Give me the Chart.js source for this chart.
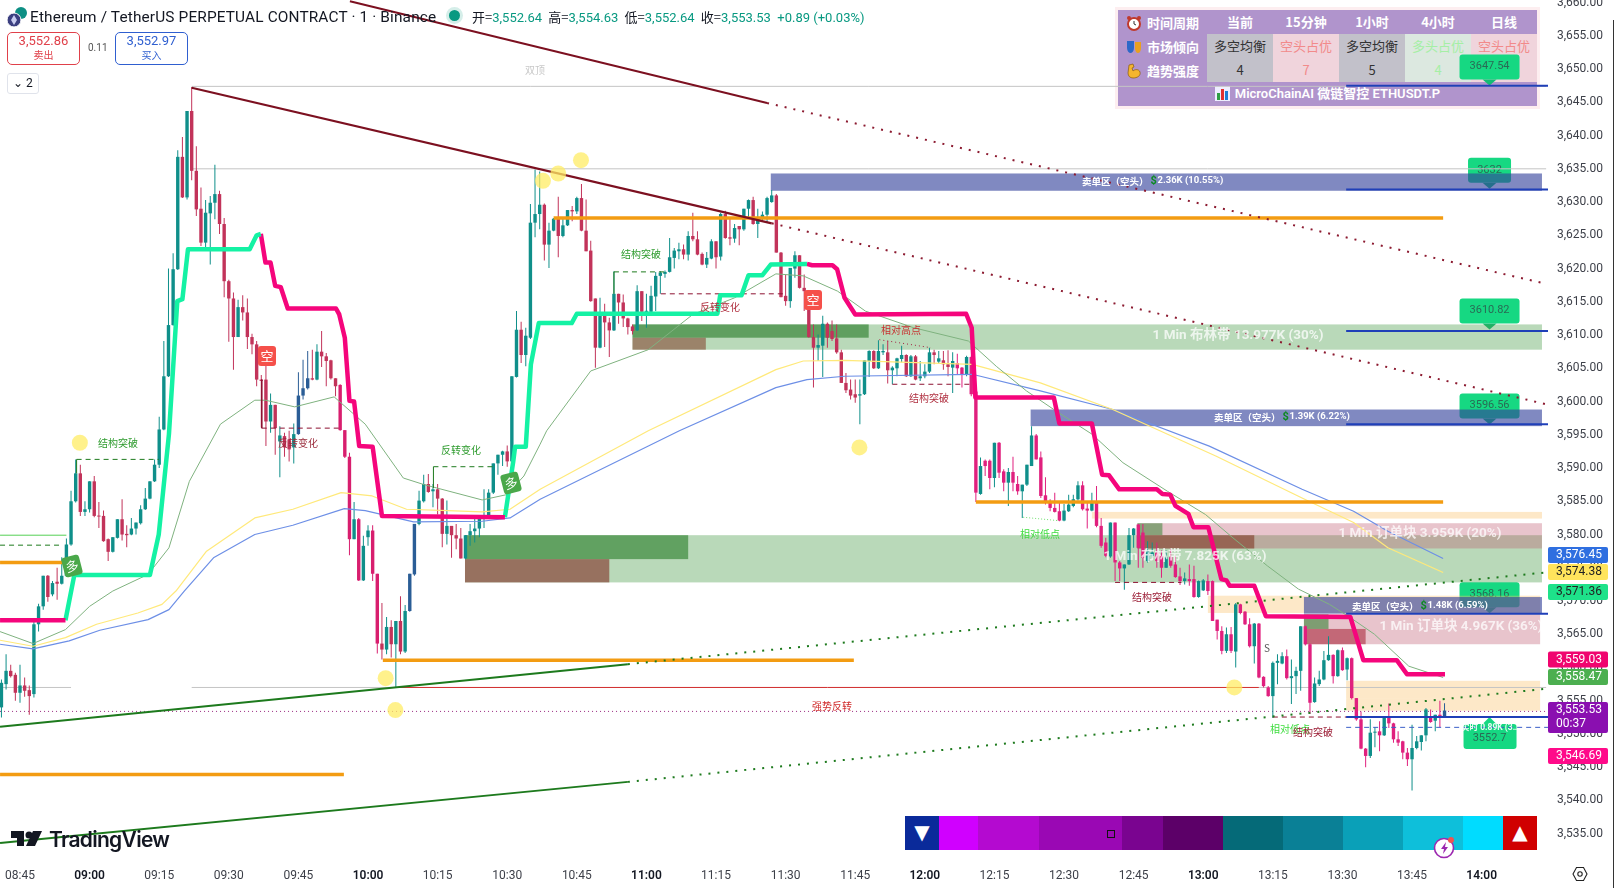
<!DOCTYPE html>
<html>
<head>
<meta charset="utf-8">
<title>ETHUSDT.P 1m</title>
<script src="https://cdn.jsdelivr.net/npm/chart.js@4/dist/chart.umd.js"></script>
<style>
  html, body { margin: 0; padding: 0; background: #fff; overflow: hidden; }
  body { width: 1614px; height: 888px; position: relative; font-family: Roboto, "Noto Sans CJK SC", sans-serif; color: #131722; }
  #wrap { position: absolute; left: 0; top: 0; width: 1614px; height: 888px; z-index: 1; }
  .top { position: absolute; z-index: 2; white-space: nowrap; }
  .cjk { font-family: "Noto Sans CJK SC", sans-serif; }
  .box { border: 1px solid; border-radius: 5px; width: 71px; height: 31px; text-align: center; font-size: 13px; line-height: 16px; background: #fff; }
  .box small { display: block; font-size: 10px; line-height: 12px; font-family: "Noto Sans CJK SC"; }
  #panel { position: absolute; z-index: 0; left: 1118px; top: 10px; width: 419px; height: 96px; background: #b094cc; box-shadow: 0 0 0 3px #fdeef0; }
  #panel table { border-collapse: collapse; table-layout: fixed; width: 419px; font-family: "Noto Sans CJK SC"; font-size: 13px; text-align: center; }
  #panel td { padding: 0; height: 24px; line-height: 24px; overflow: hidden; white-space: nowrap; }
  #panel th { padding: 0; height: 24px; font-weight: 600; color: #fff; text-align: left; }
  #panel th svg { vertical-align: -3px; margin: 0 5px 0 8px; }
  .head td { color: #fff; font-weight: 600; }
  #strip { position: absolute; z-index: 2; left: 905px; top: 816px; height: 34px; }
  #strip div { position: absolute; top: 0; height: 34px; color: #fff; text-align: center; line-height: 33px; font-size: 20px; font-family: "DejaVu Sans"; }
</style>
</head>
<body>
<div id="panel"></div>
<div id="wrap"><canvas id="priceChart"></canvas></div>

<!-- header -->
<svg class="top" style="left:6px;top:6px" width="22" height="22" viewBox="0 0 22 22">
  <circle cx="15" cy="7" r="6" fill="#0d8f84"/><circle cx="8" cy="14" r="7" fill="#3b3f80" stroke="#fff"/>
  <path d="M8 9l3 5-3 5-3-5z" fill="#c9cdf0"/>
</svg>
<div class="top" style="left:30px;top:7px;font-size:15.4px;line-height:20px;letter-spacing:.14px">Ethereum / TetherUS PERPETUAL CONTRACT · 1 · Binance</div>
<div class="top" style="left:449px;top:10px;width:11px;height:11px;border-radius:50%;background:#089981;box-shadow:0 0 0 3px #d5eee9"></div>
<div class="top" style="left:472px;top:8px;font-size:13px;line-height:17px;color:#089981">
  <span class="cjk" style="color:#131722">开=</span>3,552.64 <span class="cjk" style="color:#131722;margin-left:3px">高=</span>3,554.63 <span class="cjk" style="color:#131722;margin-left:3px">低=</span>3,552.64 <span class="cjk" style="color:#131722;margin-left:3px">收=</span>3,553.53 &nbsp;+0.89 (+0.03%)
</div>
<div class="top box" style="left:7px;top:32px;color:#e0404a;border-color:#e0404a">3,552.86<small>卖出</small></div>
<div class="top" style="left:88px;top:42px;font-size:10px;color:#555">0.11</div>
<div class="top box" style="left:115px;top:32px;color:#2f5fd0;border-color:#2f5fd0">3,552.97<small>买入</small></div>
<div class="top" style="left:7px;top:73px;width:30px;height:19px;border:1px solid #e0e3eb;border-radius:3px;background:#fff;font-size:12px;line-height:19px;text-align:center">⌄ 2</div>

<!-- tradingview mark -->
<svg class="top" style="left:11px;top:831px" width="32" height="18" viewBox="0 0 32 18">
  <path d="M0 0h13v15H6V7H0z" fill="#131722"/><circle cx="18" cy="4" r="3.5" fill="#131722"/><path d="M22 0h9l-7 15h-9z" fill="#131722"/>
</svg>
<div class="top" style="left:49px;top:826px;font-family:Inter;font-weight:600;font-size:21px;line-height:28px;letter-spacing:-.7px;color:#131722">TradingView</div>

<div id="strip"></div>
<svg class="top" style="left:1433px;top:835px" width="24" height="24" viewBox="0 0 24 24">
  <circle cx="11" cy="13" r="9.5" fill="#fff" stroke="#9c27b0" stroke-width="1.6"/><path d="M13 7l-5 7h3l-1 5 5-7h-3z" fill="#9c27b0"/><circle cx="18" cy="5" r="3" fill="#ef5350"/>
</svg>
<svg class="top" style="left:1572px;top:866px" width="16" height="16" viewBox="0 0 16 16">
  <path d="M4.5 1.5h7L15 8l-3.5 6.5h-7L1 8z" fill="none" stroke="#222" stroke-width="1.1"/><circle cx="8" cy="8" r="2.2" fill="none" stroke="#222" stroke-width="1.1"/>
</svg>
<div class="top" style="left:1613px;top:20px;width:1px;height:868px;background:#333"></div>

<script>
// first bar is 08:41, one bar per minute, x axis is minutes since midnight
const firstMinute = 521;

const opens = [
  3554,3557.5,3559.5,3558.9,3556.2,3557.3,3556.6,3556,3566.5,3569.2,
  3573.8,3571,3572.9,3572.6,3573.8,3578.5,3585,3589.2,3583.4,3583.8,
  3588,3582.8,3582.8,3579.3,3577.4,3579.5,3582.3,3580.1,3580,3580.9,
  3581.7,3583.8,3585.4,3588,3590.5,3595.8,3603.8,3611.5,3619.9,3636.8,
  3630.7,3643.7,3634.7,3629,3623.9,3628.3,3629.9,3631.2,3626.7,3618.1,
  3615.5,3609.7,3614.2,3613.4,3609.7,3608.6,3603.3,3603.3,3597,3599.5,
  3594,3594.8,3594.3,3593.1,3595.1,3600.9,3602,3603.5,3603.3,3607.5,
  3606.8,3606.2,3603.5,3602.5,3595.7,3591.7,3579.3,3582.3,3573.1,3579.6,
  3580.6,3574.1,3563.6,3562.7,3566.1,3563.5,3567,3562.4,3568.5,3574,
  3581.6,3585,3587.6,3586.5,3586.8,3585.4,3580.1,3581.3,3579.9,3579.4,
  3576.4,3579.9,3580.5,3580.9,3582.5,3582.9,3586.3,3590.7,3592,3592.5,
  3591,3603.7,3610.8,3607,3609.6,3626.9,3628.2,3629.6,3623.6,3625.7,
  3627.5,3624.9,3626.5,3628.8,3628.6,3630.6,3625.7,3622.7,3615.5,3608.1,
  3613.4,3611.9,3610.7,3616.2,3614.9,3612.5,3611.3,3610.7,3616.6,3613.5,
  3613.5,3615.8,3618.9,3619.2,3619.5,3621.6,3622.6,3622.9,3622.1,3624.9,
  3624.4,3622.2,3620.6,3621.5,3624.1,3621.8,3628.2,3624.7,3624.5,3626.4,
  3625.9,3629,3630.3,3626.7,3627.7,3628.1,3630,3631,3622.4,3615.9,
  3615.1,3620,3622,3617.1,3616.7,3609.7,3608.1,3608.4,3611.7,3610.6,
  3609.5,3607.4,3602.8,3601.8,3601.1,3600.9,3601.1,3606.1,3607.6,3605,
  3607.4,3607.4,3604.7,3605,3606.4,3607,3603.8,3606.8,3603.5,3603.8,
  3604.5,3607.4,3606,3606.2,3605.6,3605.1,3605.8,3605.1,3604.1,3606.7,
  3601.5,3586.1,3591.1,3591.1,3588.5,3593.8,3589.5,3587.8,3589.4,3587.6,
  3586.5,3587.5,3590.3,3594.9,3591.6,3585.9,3585,3584,3583.5,3582.1,
  3583.5,3584.3,3585.3,3587.4,3583.9,3583.6,3584.8,3581.3,3578.8,3576.7,
  3581.8,3575.8,3574.9,3575.5,3579.9,3581.5,3580.3,3576,3576.8,3577.3,
  3576.8,3575,3576.6,3575.5,3573.7,3573,3573.3,3573.3,3570.6,3571.6,
  3573,3573,3567.2,3565.5,3562.5,3565,3562.4,3569.5,3568.4,3566.5,
  3563.2,3566.6,3558.6,3557,3555.7,3560.7,3560.6,3561.7,3558.4,3558.7,
  3559.5,3566.2,3563.5,3554.8,3557.5,3558.2,3561.1,3561.9,3558.7,3562.6,
  3559.7,3561.4,3555.4,3552.2,3547.8,3546.7,3550.2,3550.4,3549.8,3552.7,
  3551.6,3549.2,3548.9,3547.2,3546.2,3547.9,3548.8,3549.8,3552.7,3552,3552.9,3552.64
];
const highs = [
  3558.2,3562,3560.4,3559.2,3560.4,3558.5,3557.3,3567,3569.6,3573.8,
  3573.9,3573,3575,3576.6,3579.4,3586.6,3591.3,3590.5,3585,3588,
  3588.8,3584.9,3583.6,3579.4,3579.6,3582.3,3585.3,3581.4,3582.5,3581.8,
  3584.4,3587,3588,3591.3,3597.7,3609.1,3620,3622.3,3637.8,3639.8,
  3643.7,3647.3,3638.4,3632.2,3630.3,3630.9,3635.6,3631.7,3627.6,3618.3,
  3616.4,3615.3,3616,3615.5,3610.2,3609.1,3604,3605.6,3601.2,3599.5,
  3596.3,3595.3,3595.6,3596.7,3604.4,3606.3,3607.6,3607.8,3608.6,3610.6,
  3607.3,3606.3,3603.5,3602.6,3595.7,3592.3,3584.9,3582.5,3579.8,3581.4,
  3581.4,3574.1,3569.7,3567.6,3567.1,3567,3570.7,3569.4,3574.1,3581.6,
  3586.6,3589,3589.1,3587.6,3587.6,3585.5,3585.1,3581.3,3581.6,3581,
  3579.9,3581.6,3582.5,3582.5,3586.8,3586.8,3590.7,3592,3592.6,3593.4,
  3603.8,3613.6,3612,3611.1,3629.7,3634.9,3634.6,3629.8,3626.9,3627.6,
  3630.8,3627.5,3628.8,3629.4,3630.8,3632.7,3630.4,3624.2,3615.5,3615.6,
  3614.7,3612.6,3619.6,3616.2,3616.1,3612.6,3611.6,3617.5,3616.6,3616.2,
  3617.4,3619.5,3619.6,3619.7,3624.6,3623.1,3623.9,3623.6,3625.6,3628.4,
  3625.6,3622.4,3622.5,3624.4,3624.1,3628.4,3628.7,3627.6,3626.7,3626.4,
  3629,3630.4,3630.8,3629,3628.6,3630.8,3631.8,3631.2,3622.5,3619.1,
  3620.1,3622.6,3622,3619.1,3616.7,3611.6,3610.1,3612.9,3611.9,3612.2,
  3611.6,3607.8,3604.3,3603.3,3603.3,3603.3,3606.2,3607.7,3607.7,3609.2,
  3608.6,3609.1,3605.3,3606.6,3608.4,3607.1,3607,3607,3606.1,3605.6,
  3608.1,3607.8,3607.6,3607.6,3607.7,3607.4,3607.2,3605.2,3606.9,3606.9,
  3601.6,3591.6,3591.3,3591.3,3593.8,3593.9,3589.8,3590,3591.7,3588.8,
  3587.5,3590.5,3596.3,3595.1,3592.5,3588.6,3585.3,3586.3,3584.8,3584.6,
  3586,3586,3588,3588,3585,3586.3,3587.3,3582.5,3579.5,3581.8,
  3581.8,3576,3575.5,3581,3581,3581.6,3581.6,3579,3578.8,3578.8,
  3577.6,3577.6,3577.8,3576.8,3575,3574.3,3575.5,3575.3,3573.1,3573.3,
  3574,3573.1,3567.2,3566.2,3566,3566.1,3569.7,3569.6,3568.5,3567.4,
  3566.7,3566.7,3558.7,3557.2,3560.9,3562,3562.3,3562.7,3561.2,3560.1,
  3566.2,3566.3,3563.6,3558.5,3559.5,3562.5,3564.7,3562,3562.7,3563,
  3561.5,3561.5,3555.4,3553.4,3547.9,3552.2,3551,3551.9,3552.7,3554.6,
  3551.7,3550.4,3549,3547.9,3551.4,3549.7,3549.8,3553.9,3553.7,3552.9,3555,3554.63
];
const lows = [
  3552.5,3556.7,3558.5,3555,3554.7,3555.6,3552.9,3555.5,3565.4,3568.7,
  3569.9,3570.7,3570.2,3572.5,3573.6,3578.3,3584.8,3582.8,3582.8,3583.3,
  3582.6,3581,3578.9,3576,3577.3,3579.4,3579.1,3578.1,3579.9,3580,
  3581.5,3583.7,3585.3,3587.9,3590,3595.7,3603.7,3611.4,3619.8,3630.6,
  3630.4,3633.3,3627.9,3623.4,3622.9,3620.6,3627.4,3625.2,3615.7,3609,
  3604.8,3609.7,3612.2,3607.9,3607.1,3602.3,3596.1,3593.3,3595.3,3592,
  3588.6,3591.7,3591,3590.7,3595,3600.3,3601.8,3603.2,3603.2,3605.2,
  3602.3,3603.3,3600.8,3595.6,3591.5,3576.9,3579.3,3573,3573,3578.3,
  3573,3562.1,3561.2,3562,3561.5,3557,3562,3562.2,3568.4,3573.8,
  3581.4,3584.8,3586.3,3584.1,3583,3578.1,3578.5,3576.5,3577.8,3576.4,
  3576.3,3578.3,3578.8,3579.6,3581,3582.8,3586.1,3589,3590.3,3590.2,
  3590.9,3603.6,3605.8,3605.3,3609.4,3624.7,3625.9,3621.2,3620.1,3625.6,
  3621.7,3624.7,3626.4,3627.1,3628.2,3625.6,3622.6,3615,3605.1,3608,
  3608.2,3606.7,3610.6,3611.7,3611.2,3610.1,3610.1,3610.6,3612.1,3611.1,
  3613.4,3613.6,3616.2,3618.6,3619.4,3620,3621.4,3621.4,3621.2,3624.1,
  3622,3620.5,3620.1,3621.4,3620,3621.2,3624.5,3623.5,3623.9,3623.5,
  3625.7,3627.6,3626.6,3624.6,3627.2,3626.9,3629.9,3622.4,3615.7,3614.4,
  3614.1,3618.6,3617,3613.6,3609.6,3602.1,3606.1,3603.7,3608.1,3609.1,
  3607.2,3602.8,3601.3,3600.3,3599.8,3596.6,3601,3603.7,3604.9,3604.9,
  3607,3602.7,3602.6,3603.8,3605.9,3603.7,3603.7,3603.2,3603.1,3603.5,
  3604.3,3605.6,3605.7,3604.8,3603.8,3601.3,3604.1,3602.1,3603.8,3600.8,
  3584.9,3586,3588.8,3586.8,3587.1,3588.5,3586.5,3584.3,3586.5,3586,
  3582.5,3587.3,3590.3,3591.3,3585.5,3584.5,3583.5,3583.3,3582,3582,
  3583.4,3584.1,3585.1,3583.6,3580.9,3583.5,3581.1,3578,3576.6,3576.5,
  3573,3573,3571.7,3575.4,3578,3575,3575,3575.8,3576.5,3575,
  3573.5,3575,3575,3573.5,3572.4,3572.5,3572.3,3570.5,3570.5,3571.5,
  3570.9,3567,3564.2,3562,3562.2,3562.2,3560,3568,3566.4,3563,
  3560.6,3558.4,3557,3555.6,3552.4,3557.5,3560.5,3558.2,3554.5,3556,
  3556.5,3563.3,3553,3554.7,3557.2,3558.1,3561,3557.6,3558.6,3559.5,
  3558.1,3555.2,3552,3547.7,3545,3546.4,3548,3547.4,3549.7,3550.9,
  3548.7,3548.2,3546.2,3545.2,3541.5,3547.7,3547.5,3548.9,3551.7,3550.4,3551,3552.64
];
const closes = [
  3557.7,3559.5,3558.7,3556.2,3557.3,3556.5,3555.7,3566.5,3569.2,3573.8,
  3570.6,3572.7,3572.6,3573.8,3578.5,3585,3589.2,3583.4,3583.8,3588,
  3582.8,3582.7,3579,3577.4,3579.6,3582.3,3580,3579.9,3580.9,3581.8,
  3583.8,3585.4,3588,3590.5,3595.8,3603.8,3611.5,3619.9,3636.8,3630.7,
  3643.7,3634.7,3628.9,3623.9,3628.4,3629.9,3631.2,3626.7,3618.1,3615.5,
  3609.7,3614.2,3613.4,3609.7,3608.6,3603.3,3603.1,3597,3599.5,3596,
  3594.9,3593.1,3592.8,3595.1,3600.9,3602,3603.5,3603.3,3607.5,3606.8,
  3606.1,3603.5,3602.3,3595.7,3591.7,3579.3,3582.3,3573.1,3578.3,3580.6,
  3574.1,3563.6,3562.7,3566.1,3563.5,3567,3562.4,3568.5,3574.1,3581.6,
  3585.1,3587.6,3586.4,3586.8,3585.4,3580.1,3581.3,3579.9,3579.4,3576.4,
  3579.9,3580.5,3580.9,3582.5,3582.9,3586.3,3590.7,3592,3592.5,3591,
  3603.8,3610.8,3607,3609.9,3626.9,3628.2,3629.6,3623.6,3625.7,3627.5,
  3624.9,3626.5,3628.8,3628.6,3630.6,3625.7,3622.6,3615.1,3608.1,3613.4,
  3611.9,3610.7,3616.2,3614.9,3612.5,3611.2,3610.6,3616.6,3613.5,3613.6,
  3615.9,3618.9,3619.4,3619.5,3621.7,3622.7,3622.9,3622.1,3624.9,3624.4,
  3622.1,3620.6,3621.6,3624.1,3621.7,3628.2,3624.6,3624.5,3626.1,3625.9,
  3629,3630.3,3626.7,3627.7,3628.1,3630.6,3631,3622.4,3615.7,3615.1,
  3620.1,3622,3617.1,3616.6,3609.7,3608.1,3608.5,3611.7,3609.6,3609.4,
  3607.4,3602.8,3601.7,3600.9,3600.6,3601.1,3606.2,3607.6,3605,3607.6,
  3607.6,3604.7,3605.1,3606.5,3607,3603.8,3606.8,3603.3,3603.8,3604.5,
  3607.4,3607,3606.5,3605.6,3605.2,3606.1,3605,3604.1,3606.7,3601.1,
  3586.3,3590.3,3590.3,3588.5,3593.8,3589.3,3587.8,3589.4,3587.8,3586.5,
  3587.5,3590.5,3594.9,3591.3,3585.8,3584.8,3584,3583.4,3582.1,3583.6,
  3584.5,3585.3,3587.4,3583.8,3583.6,3584.8,3581.3,3578.3,3576.8,3581.8,
  3575.8,3574.9,3575.5,3579.9,3580.9,3578,3576.5,3577.5,3577.3,3576,
  3575,3576.6,3575.3,3573.6,3573,3573.4,3573,3570.6,3573,3573.1,
  3571.5,3567,3565.5,3562.5,3565,3562.5,3569.5,3568.2,3566.5,3563.2,
  3566.6,3558.5,3557.2,3555.7,3560.7,3561,3561.7,3558.4,3558.7,3559.5,
  3566.2,3563.5,3554.7,3557.6,3558.2,3561.1,3561.9,3558.7,3562.6,3559.6,
  3561.4,3555.4,3552.2,3547.8,3546.7,3550.2,3550.3,3549.8,3552.7,3551.6,
  3549.2,3548.7,3547.2,3546.2,3547.9,3548.9,3549.8,3553.7,3551.8,3552.9,3552.5,3553.53
];

// thick trend line, [minute, price]
const pinkLeft = [[520.7,3567.1],[534.8,3567.1]];
const greenA = [[534.8,3567.1],[536.7,3573.9],[553,3573.9],[554.9,3580],[557.1,3595.1],[558.9,3615.1],[560,3615.4],[561.2,3622.9],[574.5,3622.9],[576,3625],[576.9,3625.2]];
const pinkA = [[576.9,3625.2],[577.9,3620.9],[579,3620.9],[580,3617.4],[581.2,3617.2],[582.7,3614],[593.1,3614],[593.8,3613.1],[595,3609.6],[596,3600.1],[597,3600],[598.1,3593.3],[601,3593.2],[603,3582.8],[629.5,3582.6]];
const greenB = [[629.5,3582.6],[631.3,3591],[631.7,3593.2],[634,3593.2],[635.1,3605.6],[636.8,3611.8],[643.9,3611.8],[645,3613.2],[675.3,3613.2],[675.9,3616],[680.5,3616],[682,3619],[685,3619],[686.8,3620.6],[694.6,3620.7]];
const pinkB = [[694.6,3620.7],[695.7,3620.5],[700.1,3620.5],[701.1,3619.9],[702.7,3615.6],[705,3613.1],[728.9,3613.2],[730.1,3611.1],[730.9,3600.6],[747.8,3600.6],[749,3596.7],[756,3596.7],[758.2,3589],[759.7,3588.9],[761.9,3586.8],[770,3586.8],[771.2,3586.1],[772.9,3586],[774,3584.3],[776.8,3583.1],[777.9,3581.1],[781.1,3581.1],[783.9,3573.3],[785,3573.1],[785.7,3572.3],[791,3572.3],[793.5,3567.7],[811.7,3567.6],[814.5,3561.1],[821.7,3561.1],[823.9,3559],[832.1,3559]];

// moving averages, [minute, price]
const maGreen = [[520.7,3565.4],[527.8,3563.6],[534.8,3565.7],[540,3569.2],[545,3571.5],[552.6,3574],[557.1,3578],[561.5,3588],[568.2,3596.6],[575.6,3600.2],[577.9,3600.2],[584.2,3599.2],[592.7,3600.7],[599.4,3596.6],[607.6,3588.5],[612.1,3587.5],[624.6,3585.2],[629.9,3586],[633.6,3588.8],[637.1,3593.6],[638.5,3595.6],[648,3604.6],[660.4,3607.8],[670,3613.1],[679,3615.6],[687.9,3619.2],[693.8,3618.9],[701.2,3616.6],[707.2,3613.6],[717.6,3611.1],[729.4,3609.1],[735.4,3605.3],[741.9,3601.6],[747.8,3598.8],[756,3595.1],[762.7,3590.8],[772.3,3586.5],[780.5,3583],[786.4,3579.5],[793.8,3575.3],[800.5,3571.8],[807.2,3569.5],[811.7,3567.5],[816.9,3565],[824.3,3560.2],[831.7,3558.5]];
const maYellow = [[520.7,3564.1],[527.8,3563.2],[534.8,3564.5],[541.5,3566.5],[550.4,3568.2],[555.6,3569.5],[558.6,3571.5],[565.2,3577.5],[575.6,3582.5],[583.8,3583.8],[594.2,3586.3],[600.9,3585.8],[608.3,3583.8],[617.2,3583.6],[624.6,3583.4],[630.6,3583.8],[637.1,3586.8],[660.4,3595.6],[687.9,3604.8],[693.8,3606.1],[702.7,3606.2],[730.2,3605.6],[744.9,3602.8],[760.5,3598.8],[782.7,3591.8],[801.3,3585.5],[812.4,3581.8],[819.8,3578],[831.7,3574.3]];
const maBlue = [[520.7,3563.5],[527.8,3562.8],[535.6,3564],[542.2,3565.6],[552.6,3567.2],[557.1,3568.7],[560.4,3571.5],[566.7,3576.5],[575.6,3580],[583.8,3581.4],[594.9,3583.9],[599.4,3583.6],[609.8,3581.9],[624.6,3582],[630.6,3582.5],[637.1,3585.3],[667.1,3595.6],[687.9,3602.1],[694.6,3603.3],[702.7,3603.8],[730.2,3604.1],[744.9,3601.6],[760.5,3598.8],[781.3,3593.3],[801.3,3586.8],[812.4,3583.5],[819.8,3580.5],[831.7,3576.4]];

// drawn trend channels: solid part then dotted projection
const channelTopA = [[596.1,3660.2],[686,3644.9]];
const channelTopB = [[686,3644.9],[853.9,3617.7]];
const channelMidA = [[562,3647.2],[687,3626.8]];
const channelMidB = [[687,3626.8],[853.9,3599.6]];
const supportA = [[520.7,3551.1],[656,3560.5]];
const supportB = [[656,3560.5],[853.9,3574.3]];
const supportLowA = [[520.7,3533.6],[656,3542.8]];
const supportLowB = [[656,3542.8],[853.9,3556.8]];

// flat levels: from, to, price
const orangeLevels = [[520.7,535,3575.8],[520.7,594.8,3543.9],[603.2,704.7,3561.1],[640,831.7,3627.6],[731,831.7,3584.9]];
const grayLevels = [[562,853.9,3647.4],[562,853.9,3635],[520.7,536,3557],[562,606,3557],[792,853.9,3557]];
const redLevels = [[606,792,3557]];
const blueLevels = [[810.8,854.3,3647.5],[810.8,854.3,3631.9],[810.8,854.3,3610.6],[810.8,854.3,3596.6],[810.8,854.3,3568.1],[810.8,854.3,3552.55]];
const purpleDotted = [[520.7,853.9,3553.4]];
const blueDashed = [[810.8,854.3,3551]];
const greenDashed = [[537.2,554.9,3591.3],[614.1,626.9,3590.2],[653,664.4,3619.5],[520.7,534,3578.4]];
const redDashed = [[577.1,594,3596],[663.1,689.6,3616.2],[713,730,3602.6],[761,775.3,3572.8],[795,813,3552.55]];
const lightGreenLevels = [[520.7,535,3579.9]];

const structureRed = [[710.2,3609.3],[721.3,3608.1]];
const structureGreen = [[741.2,3582.6],[748.6,3582.1]];
const markerMinutes = [537.9,603.8,605.9,645.9,641,637.7,705.9,786.7];
const markerPrices = [3593.8,3558.4,3553.6,3636.3,3634.3,3633.2,3593.1,3557];

// zones: from, to, low, high, colour
const zones = [
  [686.8,853,3631.7,3634.3,"rgba(50,65,155,.62)"],
  [657,853,3607.8,3611.6,"rgba(70,155,70,.38)"],
  [657,707.9,3609.6,3611.6,"rgba(40,125,40,.62)"],
  [657,672.8,3607.8,3609.6,"rgba(130,60,40,.55)"],
  [742.8,853,3596.3,3598.8,"rgba(50,65,155,.62)"],
  [756,853,3582.4,3583.4,"rgba(250,195,110,.38)"],
  [620.9,853,3572.8,3579.9,"rgba(70,155,70,.38)"],
  [620.9,669,3576.3,3579.9,"rgba(40,125,40,.6)"],
  [620.9,652,3572.8,3576.3,"rgba(130,50,40,.62)"],
  [765.8,853,3577.9,3581.7,"rgba(190,85,110,.35)"],
  [765.8,771.2,3579.9,3581.7,"rgba(40,125,40,.5)"],
  [765.8,791,3577.9,3579.9,"rgba(130,60,40,.62)"],
  [781,852.6,3568.2,3570.8,"rgba(250,195,110,.38)"],
  [801.7,853,3568.1,3570.6,"rgba(50,65,155,.62)"],
  [801.7,852.6,3563.5,3568,"rgba(190,85,110,.35)"],
  [801.7,807,3565.8,3568,"rgba(40,125,40,.55)"],
  [801.7,815,3563.5,3565.8,"rgba(165,30,50,.55)"],
  [810.8,852.6,3555.4,3558,"rgba(250,195,110,.38)"],
  [810.8,852.6,3553.5,3555.4,"rgba(250,195,110,.38)"]
];

// green price tags above a level, and the one under the last price
const tagPrices = [3647.54,3632,3610.82,3596.56,3568.16];
const tagLabels = ["3647.54","3632","3610.82","3596.56","3568.16"];

const stripColors = ["#0a2a9a","#d000ff","#b40ad0","#9a08b4","#7a0490","#5c0068","#056a78","#0a8096","#0aa0b8","#0ebfda","#00dcff","#d00000"];
const stripEdges = [905,939,978,1039,1122,1163,1223,1283,1343,1403,1463,1503,1537];

const panelHead = ["当前","15分钟","1小时","4小时","日线"];
const panelBias = ["多空均衡","空头占优","多空均衡","多头占优","空头占优"];
const panelStrength = [4,7,5,4,4];
const panelCellBg = ["#c2c1ca","#f0d4dc","#c2c1ca","#dce8e0","#f0d4dc"];
const panelCellFg = ["#333","#f28a8a","#333","#a5efa5","#f28a8a"];

// build the small table behind the chart
const clockIcon = '<svg width="16" height="16" viewBox="0 0 16 16"><circle cx="8" cy="9" r="6" fill="#fff" stroke="#c0392b" stroke-width="2"/><circle cx="3" cy="3" r="2" fill="#c0392b"/><circle cx="13" cy="3" r="2" fill="#c0392b"/><path d="M8 6v3l2 1" stroke="#333" fill="none"/></svg>';
const maskIcon = '<svg width="16" height="16" viewBox="0 0 16 16"><path d="M1 2h7v7c0 3-2 5-3.5 5S1 12 1 9z" fill="#2c68c8"/><path d="M9 3h6v6c0 3-1.500 5-3 5s-3-2-3-5z" fill="#e8a020"/></svg>';
const armIcon = '<svg width="16" height="16" viewBox="0 0 16 16"><path d="M3 2l4-1 1 3-2 1 1 3c2-2 6-2 7 1 1 4-3 6-7 6-3 0-5-2-5-5z" fill="#f5b52e" stroke="#8a5a10" stroke-width=".7"/></svg>';
const chartIcon = '<svg width="15" height="15" viewBox="0 0 15 15" style="vertical-align:-3px;margin-right:5px"><rect width="15" height="15" fill="#eef"/><rect x="2" y="7" width="3" height="7" fill="#2f9e44"/><rect x="6" y="3" width="3" height="11" fill="#e03131"/><rect x="10" y="5" width="3" height="9" fill="#1c7ed6"/></svg>';
let rows = '<colgroup><col style="width:89px"><col span="5" style="width:66px"></colgroup>';
rows += '<tr class="head"><th>' + clockIcon + '时间周期</th>' + panelHead.map(function (h) { return "<td>" + h + "</td>"; }).join("") + "</tr>";
rows += '<tr><th>' + maskIcon + '市场倾向</th>' + panelBias.map(function (b, i) { return '<td style="background:' + panelCellBg[i] + ";color:" + panelCellFg[i] + '">' + b + "</td>"; }).join("") + "</tr>";
rows += '<tr><th>' + armIcon + '趋势强度</th>' + panelStrength.map(function (s, i) { return '<td style="background:' + panelCellBg[i] + ";color:" + panelCellFg[i] + '">' + s + "</td>"; }).join("") + "</tr>";
rows += '<tr><td colspan="6" style="color:#fff;font-weight:600;font-family:Roboto,\'Noto Sans CJK SC\'">' + chartIcon + "MicroChainAI 微链智控 ETHUSDT.P</td></tr>";
document.getElementById("panel").innerHTML = "<table>" + rows + "</table>";

// bottom colour strip
const strip = document.getElementById("strip");
stripColors.forEach(function (c, i) {
  const d = document.createElement("div");
  d.style.left = stripEdges[i] - stripEdges[0] + "px";
  d.style.width = stripEdges[i + 1] - stripEdges[i] + "px";
  d.style.background = c;
  if (i === 0) d.textContent = "▼";
  if (i === stripColors.length - 1) d.textContent = "▲";
  strip.appendChild(d);
});
const dot = document.createElement("div");
dot.style.cssText = "left:202px;top:14px;width:6px;height:6px;border:1px solid #111;";
strip.appendChild(dot);

const minutesOf = function (i) { return firstMinute + i; };
const candleColor = function (i) {
  if (closes[i] >= opens[i]) {
    if ((i >= 64 && i <= 66) || (i >= 88 && i <= 89) || i === 311) return "#2a5d96";
    return "#0f8f8a";
  }
  if (i >= 205 && i <= 310) return "#e0207e";
  if (i >= 73 && i <= 81) return "#d81e6e";
  return "#c2335a";
};

const bodyData = opens.map(function (o, i) { return { x: minutesOf(i), y: [o, closes[i]] }; });
const wickData = highs.map(function (h, i) { return { x: minutesOf(i), y: [lows[i], h] }; });
const barColors = opens.map(function (o, i) { return candleColor(i); });

function pathSet(points, color, width, dash, order) {
  return {
    type: "line",
    data: points.map(function (p) { return { x: p[0], y: p[1] }; }),
    borderColor: color,
    borderWidth: width,
    borderDash: dash || [],
    pointRadius: 0,
    order: order,
    tension: 0,
    borderJoinStyle: "round"
  };
}
function levelSets(levels, color, width, dash, order) {
  return levels.map(function (l) { return pathSet([[l[0], l[2]], [l[1], l[2]]], color, width, dash, order); });
}

const datasets = [
  { type: "bar", data: wickData, backgroundColor: barColors, barThickness: 1, grouped: false, order: 20, inflateAmount: 0 },
  { type: "bar", data: bodyData, backgroundColor: barColors, barThickness: 3.4, grouped: false, order: 19, minBarLength: 1, inflateAmount: 0 },
  pathSet(maGreen, "#7fb27f", 1, null, 10),
  pathSet(maYellow, "#ffe97a", 1.2, null, 10),
  pathSet(maBlue, "#6d8fe6", 1.2, null, 10),
  pathSet(pinkLeft, "#f5057c", 4.5, null, 5),
  pathSet(greenA, "#14f2a4", 4.5, null, 5),
  pathSet(pinkA, "#f5057c", 4.5, null, 5),
  pathSet(greenB, "#14f2a4", 4.5, null, 5),
  pathSet(pinkB, "#f5057c", 4.5, null, 5),
  pathSet(channelTopA, "#7c1020", 2, null, 6),
  pathSet(channelTopB, "#8c1a30", 2, [2, 7], 6),
  pathSet(channelMidA, "#7c1020", 2.2, null, 6),
  pathSet(channelMidB, "#8c1a30", 2, [2, 7], 6),
  pathSet(supportA, "#1d7a1d", 2, null, 6),
  pathSet(supportB, "#1d7a1d", 2, [2, 7], 6),
  pathSet(supportLowA, "#1d7a1d", 2, null, 6),
  pathSet(supportLowB, "#1d7a1d", 2, [2, 7], 6),
  pathSet(structureRed, "#a02040", 1, [1, 3], 8),
  pathSet(structureGreen, "#6ee06e", 1, [1, 2], 8)
].concat(
  levelSets(orangeLevels, "#f39c12", 3.6, null, 7),
  levelSets(grayLevels, "#c4c4c4", 1, null, 25),
  levelSets(redLevels, "#d02a2a", 1, null, 25),
  levelSets(blueLevels, "#1f3fb8", 2, null, 6),
  levelSets(purpleDotted, "#9a2a80", 1, [1, 3], 25),
  levelSets(blueDashed, "#3a5fc8", 1, [5, 4], 6),
  levelSets(greenDashed, "#1d7a1d", 1, [5, 4], 8),
  levelSets(redDashed, "#8c1030", 1, [5, 4], 8),
  levelSets(lightGreenLevels, "#55d055", 1, null, 8)
);
// the little vertical legs of the structure breaks
[[537.2, 3589.2, 3591.3], [614.1, 3587, 3590.2], [653, 3616.2, 3619.5]].forEach(function (v) {
  datasets.push(pathSet([[v[0], v[1]], [v[0], v[2]]], "#1d7a1d", 1, null, 8));
});
datasets.push(pathSet([[577.1, 3603.3], [577.1, 3596]], "#8c1030", 1, null, 8));
datasets.push({
  type: "line",
  showLine: false,
  data: markerMinutes.map(function (m, i) { return { x: m, y: markerPrices[i] }; }),
  pointRadius: 8,
  pointHoverRadius: 8,
  pointBackgroundColor: "rgba(255,236,100,.75)",
  pointBorderWidth: 0,
  order: 4
});

// text notes on the chart
const notes = [
  ["结构突破", 118, 443, "#2e9b2e"], ["反转变化", 298, 443, "#9b2c3c"], ["反转变化", 461, 450, "#2e9b2e"],
  ["结构突破", 641, 254, "#2e9b2e"], ["反转变化", 720, 307, "#b03040"], ["相对高点", 901, 330, "#c83030"],
  ["结构突破", 929, 398, "#b03040"], ["相对低点", 1040, 534, "#3fdc3f"], ["结构突破", 1152, 597, "#9b1c34"],
  ["相对低点", 1290, 729, "#3fdc3f"], ["结构突破", 1313, 732, "#9b1c34"], ["强势反转", 832, 706, "#d02a2a"],
  ["双顶", 535, 70, "#c8c8c8"], ["S", 1267, 648, "#555"]
];
const badges = [["空", 267, 356, "#f5504a", 0], ["空", 813, 300, "#f5504a", 0], ["多", 72, 566, "#4aa84a", -0.25], ["多", 511, 483, "#4aa84a", -0.25]];
const sellNotes = [["2.36K (10.55%)", 1082, 181], ["1.39K (6.22%)", 1214, 417], ["1.48K (6.59%)", 1352, 606]];
const bookNotes = [
  ["1 Min 布林带 13.977K (30%)", 1238, 336], ["1 Min 订单块 3.959K (20%)", 1420, 534],
  ["1 Min 布林带 7.825K (63%)", 1185, 557], ["1 Min 订单块 4.967K (36%)", 1461, 627]
];
const axisLabels = [
  ["3,576.45", 555, 16, "#2f6fe0", "#fff"], ["3,574.38", 572, 16, "#ffe45c", "#222"], ["3,571.36", 592, 16, "#1ee28a", "#222"],
  ["3,559.03", 659.500, 16, "#f0056f", "#fff"], ["3,558.47", 677, 16, "#4caf50", "#fff"], ["3,546.69", 756, 16, "#ff0a8a", "#fff"]
];

function roundBox(ctx, x, y, w, h, r, color) {
  ctx.fillStyle = color;
  ctx.beginPath();
  ctx.roundRect(x, y, w, h, r);
  ctx.fill();
}

const overlayPlugin = {
  id: "overlay",
  beforeDatasetsDraw(chart) {
    const ctx = chart.ctx, xs = chart.scales.x, ys = chart.scales.y;
    ctx.save();
    // tags go under the zones so the zone tints them, like the reference
    const cx = xs.getPixelForValue(841.7);
    tagPrices.forEach(function (p, i) {
      const y = ys.getPixelForValue(p);
      const w = tagLabels[i].length < 5 ? 43 : 60;
      roundBox(ctx, cx - w / 2, y - 31, w, 25, 3, "#16d882");
      ctx.beginPath();
      ctx.moveTo(cx - 7, y - 6);
      ctx.lineTo(cx + 7, y - 6);
      ctx.lineTo(cx, y);
      ctx.fillStyle = "#12bc74";
      ctx.fill();
      ctx.fillStyle = "#2a6a55";
      ctx.font = '11px Roboto';
      ctx.textAlign = "center";
      ctx.textBaseline = "middle";
      ctx.fillText(tagLabels[i], cx, y - 19);
    });
    const below = ys.getPixelForValue(3552.55);
    ctx.beginPath();
    ctx.moveTo(cx - 7, below + 7);
    ctx.lineTo(cx + 7, below + 7);
    ctx.lineTo(cx, below);
    ctx.fillStyle = "#16d882";
    ctx.fill();
    roundBox(ctx, cx - 26, below + 7, 53, 25, 3, "#16d882");
    ctx.fillStyle = "#2a6a55";
    ctx.fillText("3552.7", cx, below + 21);
    // zones
    zones.forEach(function (z) {
      const x0 = xs.getPixelForValue(z[0]), x1 = xs.getPixelForValue(z[1]);
      const y0 = ys.getPixelForValue(z[3]), y1 = ys.getPixelForValue(z[2]);
      ctx.fillStyle = z[4];
      ctx.fillRect(x0, y0, x1 - x0, y1 - y0);
    });
    ctx.restore();
  },
  afterDatasetsDraw(chart) {
    const ctx = chart.ctx;
    ctx.save();
    ctx.textBaseline = "middle";
    ctx.textAlign = "center";
    ctx.font = '10px "Noto Sans CJK SC"';
    notes.forEach(function (n) {
      ctx.fillStyle = n[3];
      ctx.fillText(n[0], n[1], n[2]);
    });
    badges.forEach(function (b) {
      ctx.save();
      ctx.translate(b[1], b[2]);
      ctx.rotate(b[4]);
      roundBox(ctx, -9, -10, 18, 20, 3, b[3]);
      ctx.fillStyle = "#fff";
      ctx.font = '13px "Noto Sans CJK SC"';
      ctx.fillText(b[0], 0, 0);
      ctx.restore();
    });
    // sell zone captions
    ctx.textAlign = "left";
    sellNotes.forEach(function (s) {
      ctx.font = 'bold 9.5px "Noto Sans CJK SC"';
      ctx.fillStyle = "#fff";
      const lead = "卖单区（空头）";
      ctx.fillText(lead, s[1], s[2]);
      let x = s[1] + ctx.measureText(lead).width + 2;
      ctx.font = "bold 11px Roboto";
      ctx.fillStyle = "#0c8a20";
      ctx.fillText("$", x, s[2]);
      x += 7;
      ctx.font = "bold 9.5px Roboto";
      ctx.fillStyle = "#fff";
      ctx.fillText(s[0], x, s[2]);
    });
    ctx.textAlign = "center";
    ctx.font = 'bold 13.5px Roboto, "Noto Sans CJK SC"';
    ctx.fillStyle = "rgba(255,255,255,.75)";
    bookNotes.forEach(function (b) { ctx.fillText(b[0], b[1], b[2]); });
    ctx.font = 'bold 8.5px Roboto, "Noto Sans CJK SC"';
    ctx.fillStyle = "rgba(255,255,255,.9)";
    ctx.fillText("实时 0.89K (3…", 1490, 728);
    ctx.restore();
  },
  afterDraw(chart) {
    const ctx = chart.ctx;
    ctx.save();
    ctx.textBaseline = "middle";
    ctx.textAlign = "left";
    ctx.font = "12px Roboto";
    axisLabels.forEach(function (a) {
      roundBox(ctx, 1548, a[1] - a[2] / 2, 60, a[2], 2, a[3]);
      ctx.fillStyle = a[4];
      ctx.fillText(a[0], 1556, a[1]);
    });
    roundBox(ctx, 1548, 702, 60, 31, 2, "#8a0fb0");
    ctx.fillStyle = "#fff";
    ctx.fillText("3,553.53", 1556, 710);
    ctx.fillText("00:37", 1556, 724);
    ctx.restore();
  }
};

const fontFamily = 'Roboto, "Liberation Sans", sans-serif';
// stop the axis labels from pushing the plot area inwards
function noMargins(scale) {
  scale.paddingLeft = 0;
  scale.paddingRight = 0;
  scale.paddingTop = 0;
  scale.paddingBottom = 0;
}
new Chart(document.getElementById("priceChart").getContext("2d"), {
  type: "bar",
  data: { datasets: datasets },
  plugins: [overlayPlugin],
  options: {
    responsive: true,
    maintainAspectRatio: false,
    animation: false,
    layout: { padding: 0, autoPadding: false },
    plugins: { legend: { display: false }, tooltip: { enabled: false } },
    events: [],
    scales: {
      x: {
        type: "linear",
        offset: false,
        min: 520.69,
        max: 854.3,
        afterFit: function (scale) { scale.height = 28; noMargins(scale); },
        grid: { display: false, drawTicks: false },
        border: { display: false },
        ticks: {
          stepSize: 15,
          includeBounds: false,
          autoSkip: false,
          maxRotation: 0,
          padding: 9,
          color: function (c) { return c.tick && c.tick.value % 60 === 0 ? "#131722" : "#3c3f48"; },
          font: function (c) {
            return { family: fontFamily, size: 12, weight: c.tick && c.tick.value % 60 === 0 ? "600" : "400" };
          },
          callback: function (v) {
            const h = Math.floor(v / 60), m = v % 60;
            return (h < 10 ? "0" : "") + h + ":" + (m < 10 ? "0" : "") + m;
          }
        }
      },
      y: {
        type: "linear",
        position: "right",
        beginAtZero: false,
        min: 3531.05,
        max: 3660.39,
        afterFit: function (scale) { scale.width = 66; noMargins(scale); },
        grid: { display: false, drawTicks: false },
        border: { display: false },
        ticks: {
          stepSize: 5,
          includeBounds: false,
          autoSkip: false,
          padding: 9,
          color: "#3c3f48",
          font: { family: fontFamily, size: 12 },
          callback: function (v) {
            return v.toLocaleString("en-US", { minimumFractionDigits: 2, maximumFractionDigits: 2 });
          }
        }
      }
    }
  }
});
</script>
</body>
</html>
